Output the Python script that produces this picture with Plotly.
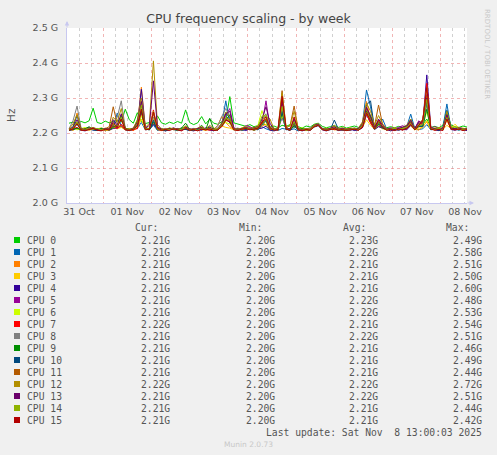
import pandas as pd
import plotly.graph_objects as go

# munin week graph: one sample every 2 hours, values in MHz
times = pd.date_range("2025-10-31 07:00", periods=100, freq="2h")

cpu_names = [f"CPU {i}" for i in range(16)]
cpu_colors = ["#00CC00", "#0066B3", "#FF8000", "#FFCC00", "#330099", "#990099",
              "#CCFF00", "#FF0000", "#808080", "#008F00", "#00487D", "#B35A00",
              "#B38F00", "#6B006B", "#8FB300", "#B30000"]

cpu0 = [2228, 2231, 2226, 2233, 2229, 2235, 2271, 2230, 2227, 2234, 2229, 2232, 2236, 2231, 2268, 2238, 2228, 2258, 2233, 2227,
        2230, 2226, 2249, 2229, 2225, 2231, 2227, 2233, 2228, 2266, 2230, 2224, 2229, 2247, 2226, 2240, 2228, 2225, 2232, 2236,
        2304, 2229, 2226, 2222, 2219, 2224, 2218, 2221, 2226, 2223, 2217, 2220, 2215, 2222, 2219, 2224, 2216, 2218, 2214, 2220,
        2217, 2225, 2228, 2219, 2215, 2218, 2221, 2216, 2219, 2214, 2217, 2220, 2216, 2222, 2270, 2250, 2221, 2232, 2218, 2215,
        2218, 2215, 2219, 2216, 2221, 2232, 2217, 2220, 2224, 2240, 2216, 2219, 2215, 2222, 2260, 2223, 2218, 2216, 2220, 2217]
cpu1 = [2209, 2212, 2225, 2207, 2211, 2214, 2208, 2210, 2213, 2206, 2211, 2215, 2257, 2218, 2210, 2207, 2212, 2214, 2230, 2209,
        2211, 2222, 2208, 2213, 2206, 2210, 2212, 2209, 2215, 2211, 2207, 2213, 2210, 2208, 2214, 2211, 2206, 2212, 2226, 2292,
        2228, 2210, 2213, 2207, 2211, 2216, 2209, 2214, 2218, 2212, 2208, 2211, 2207, 2213, 2210, 2209, 2212, 2206, 2211, 2208,
        2210, 2219, 2222, 2213, 2209, 2211, 2216, 2208, 2212, 2210, 2207, 2213, 2211, 2226, 2323, 2275, 2214, 2222, 2240, 2212,
        2209, 2212, 2208, 2214, 2218, 2254, 2213, 2210, 2212, 2224, 2209, 2211, 2207, 2216, 2283, 2214, 2210, 2208, 2212, 2209]
cpu2 = [2208, 2214, 2257, 2211, 2207, 2210, 2213, 2209, 2212, 2206, 2210, 2224, 2214, 2218, 2209, 2211, 2207, 2220, 2331, 2215,
        2210, 2228, 2212, 2207, 2211, 2209, 2213, 2208, 2210, 2216, 2207, 2212, 2209, 2211, 2208, 2213, 2210, 2222, 2247, 2230,
        2218, 2211, 2208, 2212, 2210, 2214, 2209, 2211, 2220, 2225, 2212, 2209, 2213, 2270, 2215, 2210, 2232, 2208, 2211, 2209,
        2212, 2220, 2223, 2210, 2208, 2213, 2209, 2211, 2210, 2207, 2212, 2209, 2211, 2230, 2290, 2240, 2213, 2228, 2219, 2210,
        2208, 2211, 2209, 2213, 2210, 2226, 2212, 2208, 2218, 2232, 2210, 2212, 2209, 2213, 2236, 2211, 2209, 2212, 2208, 2210]
cpu3 = [2210, 2207, 2215, 2209, 2212, 2208, 2211, 2213, 2209, 2210, 2207, 2214, 2212, 2216, 2209, 2211, 2208, 2213, 2240, 2210,
        2212, 2238, 2209, 2211, 2207, 2212, 2210, 2208, 2213, 2211, 2209, 2207, 2212, 2210, 2208, 2211, 2213, 2209, 2220, 2216,
        2214, 2209, 2211, 2208, 2213, 2216, 2210, 2212, 2235, 2222, 2209, 2211, 2208, 2255, 2212, 2210, 2222, 2209, 2211, 2207,
        2210, 2218, 2224, 2211, 2209, 2212, 2210, 2208, 2211, 2209, 2212, 2210, 2208, 2216, 2238, 2222, 2211, 2219, 2212, 2209,
        2211, 2208, 2212, 2210, 2213, 2220, 2209, 2214, 2216, 2235, 2211, 2209, 2212, 2210, 2222, 2213, 2225, 2214, 2211, 2209]
cpu4 = [2207, 2210, 2212, 2208, 2206, 2211, 2209, 2207, 2210, 2212, 2208, 2213, 2215, 2221, 2209, 2207, 2210, 2222, 2325, 2212,
        2209, 2226, 2211, 2208, 2206, 2210, 2212, 2207, 2209, 2211, 2208, 2206, 2210, 2209, 2212, 2208, 2207, 2210, 2222, 2240,
        2230, 2212, 2208, 2210, 2207, 2212, 2209, 2211, 2214, 2219, 2208, 2206, 2210, 2245, 2211, 2207, 2220, 2209, 2206, 2210,
        2208, 2217, 2221, 2209, 2206, 2210, 2212, 2207, 2209, 2208, 2211, 2207, 2209, 2215, 2252, 2230, 2210, 2218, 2214, 2208,
        2206, 2210, 2208, 2211, 2209, 2222, 2212, 2228, 2226, 2366, 2215, 2209, 2207, 2211, 2248, 2210, 2208, 2211, 2209, 2207]
cpu5 = [2210, 2215, 2212, 2209, 2213, 2216, 2211, 2208, 2214, 2212, 2210, 2218, 2213, 2225, 2211, 2209, 2214, 2212, 2258, 2216,
        2212, 2240, 2214, 2210, 2213, 2211, 2215, 2209, 2212, 2214, 2210, 2213, 2211, 2209, 2215, 2212, 2210, 2214, 2228, 2250,
        2270, 2215, 2211, 2213, 2221, 2218, 2212, 2214, 2226, 2292, 2215, 2212, 2210, 2262, 2214, 2211, 2224, 2213, 2210, 2212,
        2214, 2222, 2226, 2213, 2210, 2212, 2215, 2211, 2213, 2210, 2214, 2212, 2209, 2220, 2262, 2232, 2213, 2220, 2216, 2212,
        2215, 2212, 2216, 2221, 2214, 2228, 2212, 2235, 2222, 2310, 2214, 2218, 2212, 2215, 2244, 2213, 2211, 2216, 2213, 2211]
cpu6 = [2211, 2214, 2209, 2212, 2216, 2210, 2213, 2211, 2215, 2209, 2212, 2214, 2218, 2222, 2210, 2213, 2211, 2216, 2250, 2212,
        2214, 2240, 2211, 2213, 2209, 2215, 2212, 2210, 2214, 2218, 2211, 2209, 2213, 2215, 2210, 2212, 2214, 2211, 2223, 2230,
        2226, 2213, 2210, 2215, 2218, 2212, 2214, 2222, 2264, 2230, 2212, 2214, 2211, 2250, 2213, 2210, 2226, 2212, 2215, 2211,
        2213, 2221, 2225, 2212, 2214, 2211, 2218, 2213, 2210, 2212, 2215, 2211, 2213, 2222, 2255, 2234, 2212, 2223, 2217, 2213,
        2211, 2214, 2212, 2216, 2218, 2230, 2213, 2220, 2219, 2262, 2212, 2215, 2211, 2214, 2240, 2216, 2218, 2212, 2214, 2211]
cpu7 = [2209, 2212, 2216, 2208, 2211, 2210, 2214, 2209, 2207, 2212, 2210, 2220, 2213, 2224, 2209, 2211, 2208, 2214, 2262, 2210,
        2212, 2266, 2210, 2207, 2211, 2209, 2213, 2210, 2208, 2215, 2209, 2211, 2207, 2212, 2210, 2208, 2211, 2209, 2221, 2238,
        2236, 2210, 2208, 2212, 2215, 2210, 2213, 2216, 2232, 2240, 2209, 2211, 2208, 2300, 2212, 2209, 2228, 2211, 2208, 2210,
        2208, 2220, 2224, 2211, 2209, 2212, 2210, 2214, 2208, 2211, 2209, 2212, 2210, 2218, 2256, 2228, 2212, 2225, 2216, 2209,
        2211, 2209, 2212, 2208, 2214, 2226, 2210, 2218, 2230, 2342, 2212, 2209, 2211, 2208, 2245, 2212, 2210, 2213, 2209, 2211]
cpu8 = [2212, 2235, 2277, 2214, 2209, 2211, 2215, 2212, 2210, 2213, 2211, 2230, 2245, 2292, 2213, 2210, 2214, 2232, 2290, 2214,
        2211, 2245, 2213, 2210, 2212, 2209, 2214, 2211, 2213, 2216, 2210, 2212, 2209, 2214, 2211, 2213, 2210, 2220, 2247, 2270,
        2248, 2212, 2214, 2210, 2216, 2213, 2211, 2218, 2236, 2255, 2212, 2210, 2213, 2270, 2214, 2211, 2236, 2212, 2210, 2213,
        2211, 2221, 2226, 2214, 2210, 2212, 2217, 2211, 2214, 2210, 2212, 2215, 2211, 2228, 2268, 2236, 2213, 2226, 2218, 2212,
        2210, 2214, 2211, 2215, 2220, 2238, 2212, 2224, 2222, 2280, 2213, 2211, 2214, 2212, 2255, 2214, 2212, 2215, 2211, 2213]
cpu9 = [2208, 2211, 2214, 2209, 2212, 2218, 2210, 2208, 2213, 2211, 2209, 2216, 2222, 2250, 2214, 2210, 2212, 2236, 2262, 2211,
        2209, 2232, 2212, 2210, 2208, 2211, 2213, 2209, 2214, 2228, 2210, 2208, 2212, 2222, 2209, 2242, 2211, 2208, 2224, 2238,
        2252, 2211, 2209, 2213, 2210, 2214, 2208, 2212, 2228, 2238, 2210, 2212, 2209, 2260, 2211, 2208, 2222, 2210, 2213, 2209,
        2210, 2218, 2223, 2212, 2208, 2211, 2213, 2209, 2212, 2208, 2210, 2213, 2209, 2222, 2262, 2246, 2211, 2226, 2214, 2210,
        2212, 2209, 2211, 2214, 2216, 2232, 2210, 2218, 2220, 2268, 2211, 2213, 2209, 2212, 2262, 2215, 2211, 2209, 2213, 2210]
cpu10 = [2209, 2218, 2250, 2211, 2208, 2212, 2210, 2207, 2211, 2209, 2212, 2222, 2235, 2240, 2210, 2208, 2211, 2220, 2268, 2212,
         2210, 2236, 2208, 2211, 2209, 2213, 2210, 2207, 2212, 2210, 2208, 2211, 2209, 2213, 2210, 2218, 2208, 2211, 2225, 2258,
         2242, 2209, 2212, 2208, 2210, 2213, 2211, 2209, 2224, 2235, 2210, 2208, 2211, 2262, 2209, 2212, 2228, 2210, 2207, 2211,
         2209, 2219, 2222, 2210, 2212, 2209, 2237, 2211, 2208, 2210, 2212, 2209, 2211, 2224, 2280, 2292, 2212, 2230, 2216, 2209,
         2211, 2208, 2212, 2209, 2215, 2240, 2211, 2220, 2218, 2290, 2210, 2212, 2208, 2211, 2265, 2213, 2210, 2212, 2209, 2211]
cpu11 = [2210, 2212, 2230, 2208, 2211, 2209, 2213, 2210, 2207, 2212, 2218, 2275, 2226, 2238, 2210, 2208, 2212, 2226, 2280, 2211,
         2212, 2255, 2210, 2208, 2211, 2213, 2209, 2212, 2210, 2218, 2208, 2211, 2213, 2216, 2209, 2212, 2210, 2208, 2222, 2244,
         2238, 2210, 2212, 2209, 2213, 2211, 2208, 2212, 2225, 2240, 2211, 2209, 2212, 2321, 2214, 2222, 2277, 2212, 2209, 2211,
         2210, 2218, 2222, 2209, 2212, 2210, 2214, 2211, 2209, 2212, 2210, 2213, 2209, 2222, 2272, 2238, 2220, 2280, 2224, 2211,
         2209, 2212, 2210, 2213, 2216, 2232, 2211, 2220, 2240, 2305, 2212, 2209, 2211, 2214, 2250, 2212, 2210, 2213, 2209, 2211]
cpu12 = [2211, 2226, 2252, 2213, 2210, 2212, 2216, 2211, 2209, 2214, 2212, 2245, 2232, 2270, 2213, 2210, 2214, 2238, 2300, 2216,
         2228, 2406, 2224, 2212, 2210, 2214, 2211, 2213, 2210, 2220, 2212, 2209, 2214, 2218, 2211, 2222, 2212, 2210, 2230, 2260,
         2246, 2213, 2210, 2214, 2218, 2212, 2215, 2220, 2238, 2248, 2240, 2211, 2213, 2315, 2216, 2220, 2262, 2213, 2210, 2212,
         2211, 2224, 2226, 2213, 2210, 2214, 2222, 2212, 2215, 2211, 2213, 2210, 2214, 2232, 2285, 2262, 2222, 2250, 2226, 2213,
         2212, 2215, 2211, 2216, 2222, 2240, 2213, 2226, 2238, 2330, 2214, 2211, 2216, 2213, 2262, 2218, 2214, 2216, 2212, 2214]
cpu13 = [2210, 2216, 2238, 2212, 2209, 2211, 2214, 2210, 2208, 2213, 2211, 2238, 2222, 2255, 2212, 2209, 2213, 2230, 2290, 2214,
         2222, 2349, 2218, 2211, 2209, 2213, 2210, 2212, 2209, 2216, 2211, 2208, 2213, 2215, 2210, 2216, 2211, 2209, 2226, 2255,
         2262, 2212, 2209, 2213, 2216, 2211, 2214, 2218, 2240, 2275, 2228, 2210, 2212, 2290, 2213, 2211, 2240, 2212, 2209, 2211,
         2210, 2222, 2225, 2212, 2209, 2213, 2218, 2210, 2213, 2210, 2212, 2209, 2213, 2226, 2274, 2248, 2215, 2240, 2222, 2211,
         2213, 2210, 2214, 2218, 2220, 2236, 2212, 2232, 2230, 2300, 2215, 2212, 2210, 2214, 2252, 2216, 2212, 2214, 2210, 2212]
cpu14 = [2209, 2214, 2232, 2211, 2208, 2212, 2210, 2213, 2209, 2211, 2210, 2226, 2218, 2246, 2211, 2208, 2212, 2226, 2280, 2211,
         2213, 2262, 2212, 2209, 2211, 2210, 2212, 2208, 2211, 2214, 2209, 2211, 2208, 2213, 2210, 2214, 2209, 2211, 2224, 2242,
         2236, 2210, 2208, 2212, 2214, 2210, 2213, 2216, 2248, 2252, 2218, 2210, 2211, 2276, 2212, 2209, 2232, 2210, 2208, 2212,
         2209, 2220, 2223, 2211, 2208, 2212, 2214, 2209, 2211, 2208, 2210, 2212, 2209, 2223, 2260, 2238, 2212, 2232, 2218, 2209,
         2210, 2213, 2209, 2214, 2217, 2226, 2210, 2222, 2224, 2296, 2212, 2210, 2213, 2209, 2244, 2214, 2218, 2211, 2209, 2210]
cpu15 = [2208, 2212, 2226, 2209, 2207, 2210, 2213, 2208, 2206, 2211, 2209, 2230, 2216, 2240, 2210, 2207, 2211, 2222, 2268, 2209,
         2211, 2260, 2214, 2208, 2210, 2207, 2212, 2209, 2206, 2213, 2208, 2210, 2206, 2211, 2209, 2212, 2207, 2209, 2218, 2236,
         2232, 2209, 2207, 2211, 2213, 2209, 2212, 2214, 2230, 2246, 2215, 2208, 2210, 2305, 2211, 2208, 2246, 2209, 2207, 2210,
         2208, 2218, 2222, 2210, 2207, 2211, 2213, 2208, 2210, 2207, 2209, 2211, 2208, 2216, 2258, 2232, 2211, 2236, 2217, 2208,
         2210, 2207, 2211, 2209, 2213, 2224, 2209, 2222, 2236, 2330, 2211, 2208, 2210, 2207, 2240, 2212, 2209, 2211, 2207, 2210]

series = [cpu0, cpu1, cpu2, cpu3, cpu4, cpu5, cpu6, cpu7,
          cpu8, cpu9, cpu10, cpu11, cpu12, cpu13, cpu14, cpu15]

cur_vals = ["2.21G", "2.21G", "2.21G", "2.21G", "2.21G", "2.21G", "2.21G", "2.22G",
            "2.21G", "2.21G", "2.21G", "2.21G", "2.22G", "2.21G", "2.21G", "2.21G"]
min_vals = ["2.20G"] * 16
avg_vals = ["2.23G", "2.22G", "2.21G", "2.21G", "2.21G", "2.22G", "2.22G", "2.21G",
            "2.22G", "2.21G", "2.21G", "2.21G", "2.22G", "2.22G", "2.21G", "2.21G"]
max_vals = ["2.49G", "2.58G", "2.51G", "2.50G", "2.60G", "2.48G", "2.53G", "2.54G",
            "2.51G", "2.46G", "2.49G", "2.44G", "2.72G", "2.51G", "2.44G", "2.42G"]

y_ticks = [2.0e9, 2.1e9, 2.2e9, 2.3e9, 2.4e9, 2.5e9]
y_labels = ["2.0 G", "2.1 G", "2.2 G", "2.3 G", "2.4 G", "2.5 G"]

W, H = 497, 455
L, R, T, B = 67, 30, 28, 252


def px(x):
    return (x - L) / (W - L - R)


def py(y):
    return (H - B - y) / (H - T - B)


fig = go.Figure()
for name, color, vals in zip(cpu_names, cpu_colors, series):
    fig.add_trace(go.Scatter(x=times, y=[v * 1e6 for v in vals], mode="lines",
                             name=name, line=dict(color=color, width=1),
                             showlegend=False))

axis_font = dict(family="DejaVu Sans", size=9.5, color="#555555")
mono = dict(family="DejaVu Sans Mono", size=9.7, color="#555555")

fig.update_layout(
    width=W, height=H,
    margin=dict(l=L, r=R, t=T, b=B, pad=0),
    paper_bgcolor="#F0F0F0",
    plot_bgcolor="#FFFFFF",
    title=dict(text="CPU frequency scaling - by week", x=0.5, xref="container",
               y=1 - 19 / H, yref="container", xanchor="center", yanchor="middle",
               font=dict(family="DejaVu Sans", size=12.5, color="#444444")),
    xaxis=dict(type="date", range=["2025-10-31 06:00", "2025-11-08 13:00"],
               tick0="2025-10-31 00:00", dtick=86400000, tickformat="%d %b",
               ticklabelmode="period", ticks="", tickfont=axis_font,
               showgrid=True, gridcolor="rgba(230,120,120,0.55)", griddash="dot", gridwidth=1,
               minor=dict(tick0="2025-10-31 00:00", dtick=21600000, showgrid=True,
                          gridcolor="rgba(150,150,150,0.45)", griddash="dot", gridwidth=1),
               showline=True, linecolor="#C8C8F0", linewidth=1, zeroline=False,
               fixedrange=True),
    yaxis=dict(range=[2.0e9, 2.5e9], tickvals=y_ticks, ticktext=y_labels,
               tickfont=axis_font, ticks="", ticklabelstandoff=6,
               showgrid=True, gridcolor="rgba(230,120,120,0.55)", griddash="dot", gridwidth=1,
               showline=True, linecolor="#C8C8F0", linewidth=1, zeroline=False,
               fixedrange=True),
)

ann = []
ann.append(dict(text="Hz", x=px(11), y=py(115), textangle=-90, showarrow=False,
                font=dict(family="DejaVu Sans", size=10.5, color="#555555")))
ann.append(dict(text="RRDTOOL / TOBI OETIKER", x=px(487), y=py(54), textangle=90,
                showarrow=False, font=dict(family="DejaVu Sans", size=7, color="#C8C8C8")))
# axis arrows
ann.append(dict(text="", x=px(67), y=py(21), ax=0, ay=8, showarrow=True, arrowhead=2,
                arrowsize=0.9, arrowwidth=1, arrowcolor="#C8C8F0"))
ann.append(dict(text="", x=px(474), y=py(203), ax=-8, ay=0, showarrow=True, arrowhead=2,
                arrowsize=0.9, arrowwidth=1, arrowcolor="#C8C8F0"))

col_right = [172, 277, 380, 484]
head_right = [160, 264, 368, 471]
for label, xr in zip(["Cur:", "Min:", "Avg:", "Max:"], head_right):
    ann.append(dict(text=label, x=px(xr), y=py(227.5), xanchor="right", showarrow=False, font=mono))

shapes = []
for k, (name, color) in enumerate(zip(cpu_names, cpu_colors)):
    yc = 240 + 12 * k
    shapes.append(dict(type="rect", xref="paper", yref="paper",
                       x0=px(14), x1=px(20), y0=py(yc + 3), y1=py(yc - 3),
                       fillcolor=color, line=dict(width=0)))
    ann.append(dict(text=name, x=px(25), y=py(yc), xanchor="left", showarrow=False, font=mono))
    for vals, xr in zip([cur_vals, min_vals, avg_vals, max_vals], col_right):
        ann.append(dict(text=vals[k], x=px(xr), y=py(yc), xanchor="right", showarrow=False, font=mono))

ann.append(dict(text="Last update: Sat Nov  8 13:00:03 2025".replace("  ", "&nbsp; "),
                x=px(484), y=py(432), xanchor="right", showarrow=False, font=mono))
ann.append(dict(text="Munin 2.0.73", x=px(248), y=py(444), showarrow=False,
                font=dict(family="DejaVu Sans", size=7.5, color="#C8C8C8")))

for a in ann:
    a.setdefault("xref", "paper")
    a.setdefault("yref", "paper")
    a.setdefault("xanchor", "center")
    a.setdefault("yanchor", "middle")

fig.update_layout(annotations=ann, shapes=shapes)

# drop the browser's default page margin so the figure sits at the window corner
fig.write_html("out.html", config={"displayModeBar": False},
               post_script="document.body.style.margin='0';")
